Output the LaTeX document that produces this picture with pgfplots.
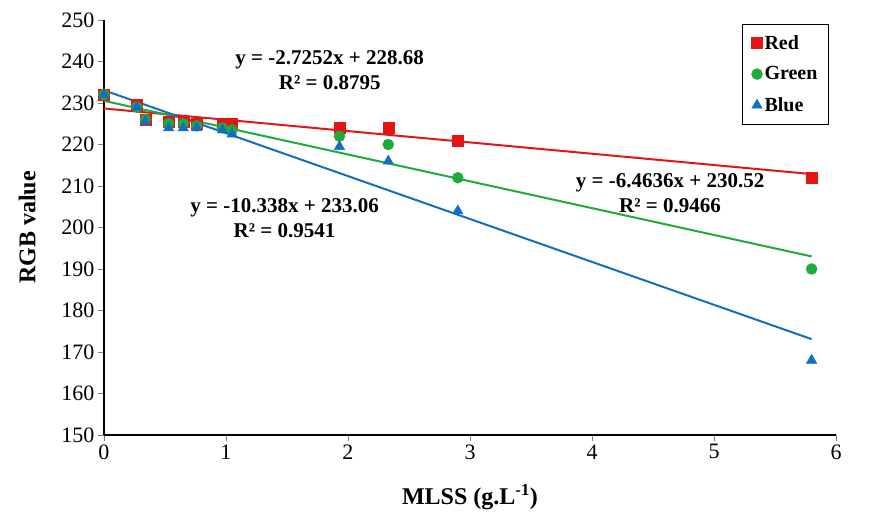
\documentclass[border=0pt]{standalone}
\usepackage{pgfplots}
\pgfplotsset{compat=1.18}
\usepackage{fontspec}
\setmainfont{Liberation Serif}
\definecolor{rr}{RGB}{230,20,20}
\definecolor{gg}{RGB}{30,170,60}
\definecolor{bb}{RGB}{20,110,190}
\begin{document}
\begin{tikzpicture}
\begin{axis}[name=ax,
  scale only axis, width=732pt, height=415pt,
  xmin=0, xmax=6, ymin=150, ymax=250,
  xtick={0,...,6}, ytick={150,160,...,250},
  tick align=outside, major tick length=6pt, axis line style={line width=1.4pt}, axis x line*=bottom, axis y line*=left,
  /pgf/number format/assume math mode=true,
  ticklabel style={font=\fontsize{22}{24}\selectfont},
  xlabel={\textbf{MLSS (g.L\textsuperscript{-1})}}, ylabel={\textbf{RGB value}},
  label style={font=\fontsize{24}{28}\selectfont},
  ylabel style={at={(axis description cs:-0.105,0.5)}, anchor=center},
  xlabel style={at={(axis description cs:0.5,-0.149)}, anchor=center},
  legend style={at={(0.99,0.99)},anchor=north east, font=\bfseries\fontsize{20}{24}\selectfont, row sep=12pt, inner sep=9pt},
  legend cell align=left,
  legend image post style={xshift=-3pt},
]
\addplot[rr, only marks, mark=square*, mark size=5.5pt] coordinates {(0,232)(0.27,229.5)(0.34,226)(0.53,225.5)(0.65,225.5)(0.76,225)(0.97,225)(1.05,225)(1.93,224)(2.33,224)(2.9,221)(5.8,212)};
\addlegendentry{Red}
\addplot[gg, only marks, mark=*, mark size=5.5pt] coordinates {(0,232)(0.27,229)(0.34,226)(0.53,225)(0.65,225)(0.76,224.5)(0.97,224)(1.05,223.5)(1.93,222)(2.33,220)(2.9,212)(5.8,190)};
\addlegendentry{Green}
\addplot[bb, only marks, mark=triangle*, mark size=6pt] coordinates {(0,232)(0.27,229)(0.34,225.5)(0.53,224)(0.65,224)(0.76,224)(0.97,223.5)(1.05,222.5)(1.93,219.5)(2.33,216)(2.9,204)(5.8,168)};
\addlegendentry{Blue}
\addplot[rr, line width=2pt, forget plot] coordinates {(0,228.68)(5.8,212.87)};
\addplot[gg, line width=2pt, forget plot] coordinates {(0,230.52)(5.8,193.03)};
\addplot[bb, line width=2pt, forget plot] coordinates {(0,233.06)(5.8,173.10)};
\node[font=\bfseries\fontsize{21}{25}\selectfont, align=center] at (axis cs:1.85,238) {y = -2.7252x + 228.68\\R² = 0.8795};
\node[font=\bfseries\fontsize{21}{25}\selectfont, align=center] at (axis cs:1.48,202.3) {y = -10.338x + 233.06\\R² = 0.9541};
\node[font=\bfseries\fontsize{21}{25}\selectfont, align=center] at (axis cs:4.64,208.3) {y = -6.4636x + 230.52\\R² = 0.9466};
\end{axis}
\pgfresetboundingbox
\path[use as bounding box] ([shift={(-104pt,-84pt)}]ax.south west) rectangle ([shift={(33pt,20pt)}]ax.north east);
\end{tikzpicture}
\end{document}
